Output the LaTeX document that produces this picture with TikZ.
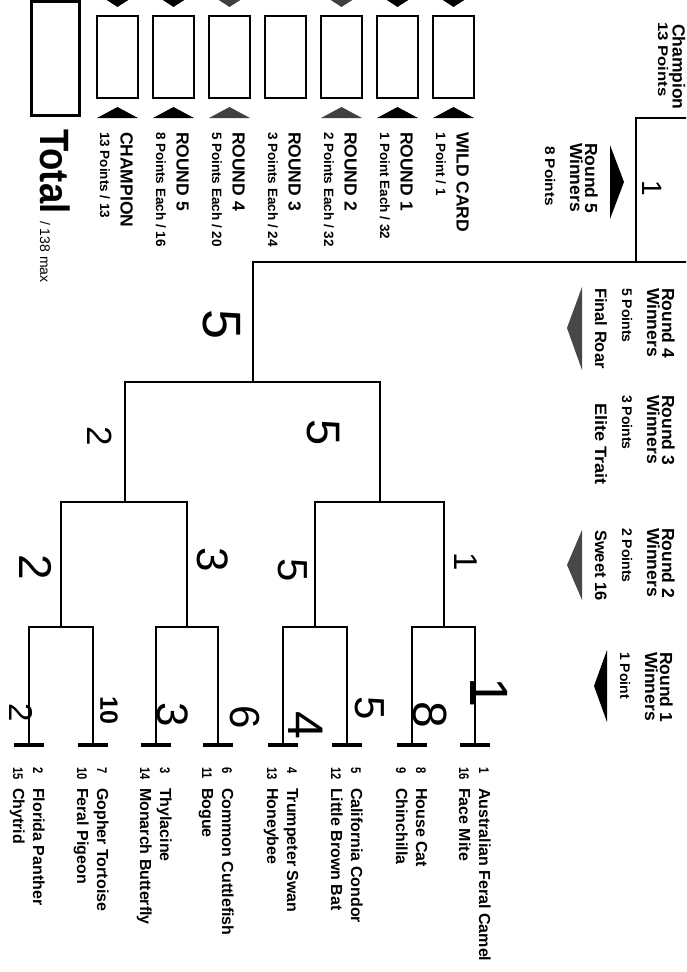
\documentclass[tikz,border=0pt]{standalone}
\usepackage{fontspec}
\setmainfont{Liberation Sans}
\usepackage{graphicx}
\newcommand\fs[1]{\fontsize{#1}{#1}\selectfont}
\newcommand\mkscore[5]{%
  \node[sbox] (box#2) at ({#1+20.5},57) {};
  \path[fill=#5] ({#1},118) -- ({#1+20.5},107) -- ({#1+41},118) -- cycle;
  \path[fill=#5] ({#1+0.5},-6) -- ({#1+20.5},7) -- ({#1+40.5},-6) -- cycle;
  \node[st] (title#2) at ({#1+23.5},132) {#3};
  \node[sd] (detail#2) at ({#1+3},132) {#4};
}
\begin{document}
\begin{tikzpicture}[x=1pt,y=-1pt,
  brk/.style={line width=2pt},
  tickl/.style={line width=3.5pt},
  txt/.style={rotate=-90,anchor=base west,inner sep=0pt,outer sep=0pt},
  leaf/.style={txt,font=\fs{16}\bfseries},
  seedn/.style={txt,font=\fs{14}\bfseries},
  hb/.style={txt,font=\fs{17.5}\bfseries},
  hs/.style={txt,font=\fs{14}\bfseries},
  hr/.style={txt,font=\fs{16.5}\bfseries},
  st/.style={txt,font=\fs{17.5}\bfseries},
  sd/.style={txt,font=\fs{13.5}\bfseries},
  sbox/.style={draw,line width=2pt,minimum width=41pt,minimum height=82pt,inner sep=0pt},
  hw/.style={rotate=-90,anchor=center,inner sep=0pt,outer sep=0pt},
  arrowfill/.style={fill=black},
  greyfill/.style={fill=black!72}]
\useasboundingbox (0,0) rectangle (686,972);
\clip (0,0) rectangle (686,972);
\fill[white] (0,0) rectangle (686,972);

% ---------------- scoring panel ----------------
\node[draw,line width=3.5pt,minimum width=48pt,minimum height=114pt,inner sep=0pt] (totalbox) at (55.5,58.5) {};
\node[txt,font=\fs{41}\bfseries] (total) at (40,129) {\scalebox{0.89}[1]{Total}};
\node[txt,font=\fs{14}] (max) at (40,221) {/ 138 max};

\mkscore{97}{champ}{CHAMPION}{13 Points / 13}{black}
\mkscore{153}{rfive}{ROUND 5}{8 Points Each / 16}{black}
\mkscore{209}{rfour}{ROUND 4}{5 Points Each / 20}{black!75}
\mkscore{265}{rthree}{ROUND 3}{3 Points Each / 24}{none}
\mkscore{321}{rtwo}{ROUND 2}{2 Points Each / 32}{black!75}
\mkscore{377}{rone}{ROUND 1}{1 Point Each / 32}{black}
\mkscore{433}{wild}{WILD CARD}{1 Point / 1}{black}

% ---------------- headers ----------------
\node[hb] (champ) at (672.5,24) {Champion};
\node[hs] (champpts) at (658,22) {\scalebox{1.2}[1]{13 Points}};

\node[hb] (r5a) at (585,143) {Round 5};
\node[hb] (r5b) at (570,143) {Winners};
\node[hs] (r5c) at (545,146) {\scalebox{1.1}[1]{8 Points}};
\fill[arrowfill] (610,145) -- (624,182) -- (610,219) -- cycle;

\node[hb] (r4a) at (662,288) {Round 4};
\node[hb] (r4b) at (647,288) {Winners};
\node[hs] (r4c) at (622,288) {5 Points};
\node[hr] (r4d) at (595,288) {Final Roar};
\fill[greyfill] (582,287) -- (567,328) -- (582,370) -- cycle;

\node[hb] (r3a) at (662,395) {Round 3};
\node[hb] (r3b) at (647,395) {Winners};
\node[hs] (r3c) at (622,395) {3 Points};
\node[hr] (r3d) at (595,403) {\scalebox{1.1}[1]{Elite Trait}};

\node[hb] (r2a) at (662,528) {Round 2};
\node[hb] (r2b) at (647,528) {Winners};
\node[hs] (r2c) at (622,528) {2 Points};
\node[hr] (r2d) at (595,530) {Sweet 16};
\fill[greyfill] (582,530) -- (567,565) -- (582,600) -- cycle;

\node[hb] (r1a) at (660,652) {Round 1};
\node[hb] (r1b) at (645,652) {Winners};
\node[hs] (r1c) at (620,652) {1 Point};
\fill[arrowfill] (607,650) -- (594,686) -- (607,722) -- cycle;

% ---------------- bracket ----------------
\foreach \i/\a/\b in {1/475/412,2/347/283,3/218/156,4/93/29}{
  \coordinate (la\i) at (\a,745);
  \coordinate (lb\i) at (\b,745);
  \coordinate (m\i) at ({(\a+\b)/2},627);
  \draw[brk] (la\i) |- (m\i) -| (lb\i);
  \draw[tickl] ([xshift=-15pt]la\i) -- ([xshift=15pt]la\i);
  \draw[tickl] ([xshift=-15pt]lb\i) -- ([xshift=15pt]lb\i);
}
\coordinate (q1) at (379.5,502);
\coordinate (q2) at (125,502);
\draw[brk] (m1) |- (q1) -| (m2);
\draw[brk] (m3) |- (q2) -| (m4);
\coordinate (fj) at (253,382);
\draw[brk] (q1) |- (fj) -| (q2);
\coordinate (gj) at (253,262);
\coordinate (fb) at (636,262);
\coordinate (ft) at (636,118);
\coordinate (re) at (690,262);
\coordinate (rt) at (690,118);
\draw[brk] (fj) -- (gj) -- (re);
\draw[brk] (fb) -- (ft) -- (rt);

% ---------------- teams ----------------
\foreach \v/\sa/\na/\sb/\nb in {475/1/Australian Feral Camel/16/Face Mite,412/8/House Cat/9/Chinchilla,347/5/California Condor/12/Little Brown Bat,283/4/Trumpeter Swan/13/Honeybee,218/6/Common Cuttlefish/11/Bogue,156/3/Thylacine/14/Monarch Butterfly,93/7/Gopher Tortoise/10/Feral Pigeon,29/2/Florida Panther/15/Chytrid}{
  \node[seedn] (seed\sa) at ({\v+4},767) {\scalebox{0.8}[1]{\sa}};
  \node[leaf] (team\sa) at ({\v+4},788) {\na};
  \node[seedn] (seed\sb) at ({\v-16},767) {\scalebox{0.8}[1]{\sb}};
  \node[leaf] (team\sb) at ({\v-16},788) {\nb};
}

% ---------------- handwritten picks ----------------
\node[hw,font=\fs{28}] (hwa) at (652,188) {1};
\node[hw,font=\fs{54}] (hwb) at (222,325) {5};
\node[hw,font=\fs{35}] (hwc) at (100,436) {2};
\node[hw,font=\fs{47}] (hwd) at (323,433) {5};
\node[hw,font=\fs{33}] (hwe) at (466,562) {1};
\node[hw,font=\fs{42}] (hwf) at (293,570) {5};
\node[hw,font=\fs{44}] (hwg) at (213,560) {3};
\node[hw,font=\fs{46}] (hwh) at (36,567) {2};
\node[hw,font=\fs{54}] (hwi) at (489,693) {1};
\node[hw,font=\fs{48}] (hwj) at (430,715) {8};
\node[hw,font=\fs{42}] (hwk) at (370,708) {5};
\node[hw,font=\fs{50}] (hwl) at (306,725) {4};
\node[hw,font=\fs{42}] (hwm) at (245,717) {6};
\node[hw,font=\fs{44}] (hwn) at (173,715) {3};
\node[hw,font=\fs{25}\bfseries] (hwo) at (109,710) {10};
\node[hw,font=\fs{33}] (hwp) at (21,713) {2};
\end{tikzpicture}
\end{document}
